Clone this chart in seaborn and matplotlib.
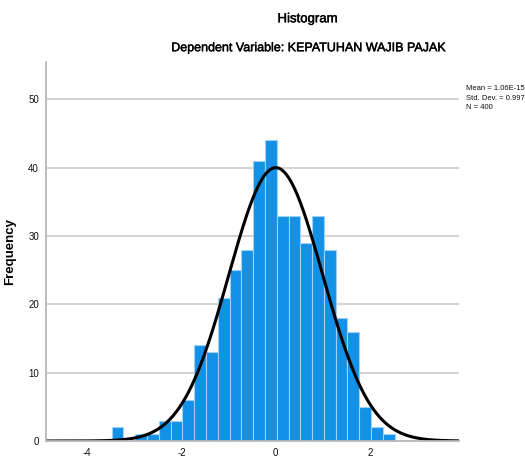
import numpy as np
import pandas as pd
import matplotlib
matplotlib.use('Agg')
import matplotlib.pyplot as plt
import matplotlib.patheffects as pe
import seaborn as sns

# bin edges start and width (regression standardized residual)
bin_start = -3.48
bin_width = 0.25
counts = [2, 0, 1, 1, 3, 3, 6, 14, 13, 21, 25, 28, 41, 44,
          33, 33, 29, 33, 28, 18, 16, 5, 2, 1]
mean = 1.06e-15
std = 0.997
n = 400
y_ticks = [0, 10, 20, 30, 40, 50]
x_ticks = [-4, -2, 0, 2]

edges = bin_start + bin_width * np.arange(len(counts) + 1)
centers = (edges[:-1] + edges[1:]) / 2
df = pd.DataFrame({'resid': centers, 'count': counts})

sns.set_theme(style='white')
plt.rcParams['font.family'] = ['Liberation Sans', 'DejaVu Sans']

fig = plt.figure(figsize=(5.25, 4.59), dpi=100)
ax = fig.add_axes([0.0876, 0.0392, 0.7864, 0.826])

for y in y_ticks[1:]:
    ax.axhline(y, color='#d0d0d0', lw=1.3, zorder=0)

sns.histplot(data=df, x='resid', weights='count', bins=list(edges), ax=ax,
             color='#1391e6', alpha=1, edgecolor='#9fd0f5', linewidth=0.8)

xs = np.linspace(-4.87, 3.88, 400)
curve = n * bin_width * np.exp(-0.5 * ((xs - mean) / std) ** 2) / (std * np.sqrt(2 * np.pi))
sns.lineplot(x=xs, y=curve, ax=ax, color='black', lw=2.2)

ax.set_xlim(-4.87, 3.88)
ax.set_ylim(0, 55.5)
ax.set_xticks(x_ticks)
ax.set_xticklabels([str(t) for t in x_ticks])
ax.set_yticks(y_ticks)
ax.tick_params(axis='both', labelsize=7, length=2, color='#b0b0b0', pad=3,
               labelcolor='#111111')
ax.set_xlabel('')
ax.set_ylabel('Frequency', fontsize=9.5, fontweight='bold', labelpad=9,
              color='black')
for s in ['top', 'right']:
    ax.spines[s].set_visible(False)
for s in ['left', 'bottom']:
    ax.spines[s].set_color('#b8b8b8')
    ax.spines[s].set_linewidth(1.3)

fat = [pe.withStroke(linewidth=0.3, foreground='black')]
fig.text(0.586, 0.958, 'Histogram', ha='center', va='center', fontsize=9.5,
         color='black', path_effects=fat)
fig.text(0.588, 0.895, 'Dependent Variable: KEPATUHAN WAJIB PAJAK',
         ha='center', va='center', fontsize=9.0, color='black', path_effects=fat)
fig.text(0.887, 0.786, f'Mean = 1.06E-15\nStd. Dev. = {std}\nN = {n}',
         ha='left', va='center', fontsize=5.5, linespacing=1.45, color='#111111')

fig.savefig('out.png', dpi=100)
